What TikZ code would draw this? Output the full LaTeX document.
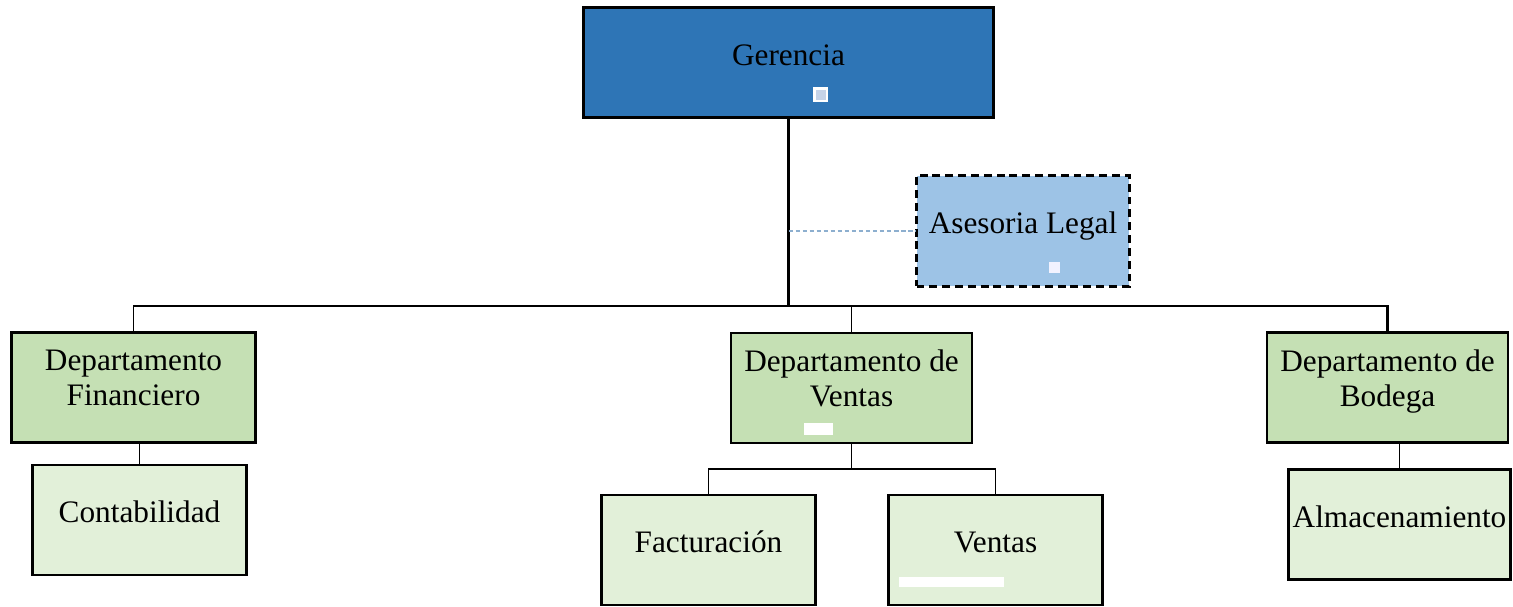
\documentclass[tikz,border=0pt]{standalone}
\usepackage{fontspec}
\setmainfont{Liberation Serif}
\definecolor{gerblue}{HTML}{2E75B6}
\definecolor{legblue}{HTML}{9DC3E6}
\definecolor{depgreen}{HTML}{C5E0B4}
\definecolor{subgreen}{HTML}{E2F0D9}
\definecolor{dotblue}{HTML}{C5D3E8}
\begin{document}
\begin{tikzpicture}[x=0.02cm,y=-0.02cm,
  every node/.style={font=\fontsize{17.8}{20}\selectfont},
  box/.style={draw=black,line width=1.5pt,align=center,inner xsep=1pt,minimum height=2.2cm,
    execute at begin node=\rule{0pt}{14pt},execute at end node=\rule[-11pt]{0pt}{11pt}},
  dep/.style={box,fill=depgreen,minimum width=4.82cm},
  sub/.style={box,fill=subgreen,minimum width=4.28cm},
  link/.style={line width=0.75pt},
  trunk/.style={line width=1.6pt},
  legline/.style={legblue!90!black,line width=0.9pt,dash pattern=on 2.6pt off 1.4pt}]
\useasboundingbox (0,0) rectangle (1513,606);
\node[box,fill=gerblue,minimum width=8.2cm] (ger) at (788.5,62.5) {Gerencia};
\node[box,fill=legblue,dash pattern=on 4.5pt off 2.8pt,minimum width=4.26cm,minimum height=2.22cm] (leg) at (1023,231) {Asesoria Legal};
\node[dep,minimum width=4.88cm] (fin) at (133.5,387.5) {Departamento\\Financiero};
\node[dep] (ven) at (851.5,388) {Departamento de\\Ventas};
\node[dep] (bod) at (1387.5,387.5) {Departamento de\\Bodega};
\node[sub] (cont) at (139.5,520) {Contabilidad};
\node[sub] (fac) at (708.5,550) {Facturación};
\node[sub] (vta) at (995.5,550) {Ventas};
\node[sub,minimum width=4.44cm] (alm) at (1399.5,524.5) {Almacenamiento};
\coordinate (hub) at (ger.south |- 0,306);
\coordinate (vhub) at (ven.south |- 0,469);
\coordinate (lt) at (ger.south |- leg.west);
\draw[link] (hub) -| (fin);
\draw[link] (ven) -- (ven |- hub);
\draw[trunk] (ger) -- (hub) -| (bod);
\draw[legline] (lt) -- (leg);
\draw[link] (cont) -- (cont |- fin.south);
\draw[link] (alm) -- (alm |- bod.south);
\draw[link] (ven) -- (vhub);
\draw[link] (fac) |- (vhub) -| (vta);
\fill[white] (813,87) rectangle (828,102);
\fill[dotblue] (815.5,89.5) rectangle (825.5,99.5);
\fill[white!95!blue] (1049,262) rectangle (1060,273);
\fill[white] (804,423) rectangle (833,435);
\fill[white] (899,577) rectangle (1004,587);
\end{tikzpicture}
\end{document}
